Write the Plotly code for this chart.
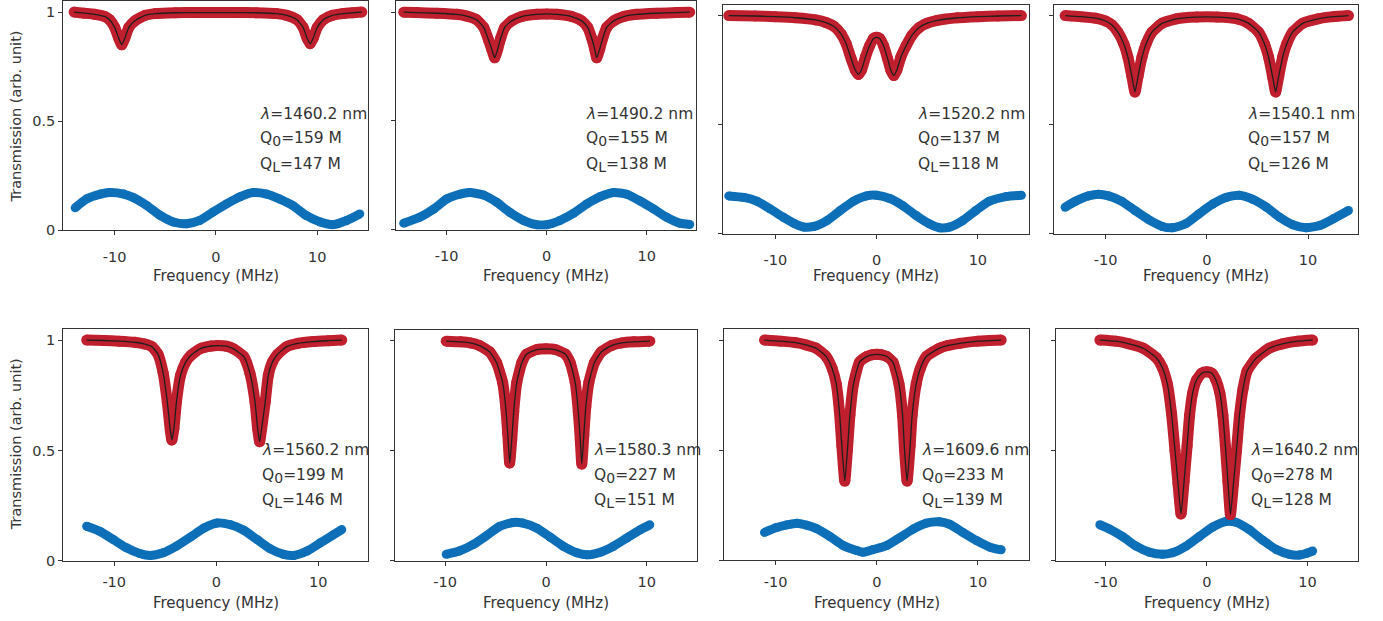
import plotly.graph_objects as go

W, H = 1383, 621

# ---------------- data ----------------
wavelengths = ["1460.2", "1490.2", "1520.2", "1540.1", "1560.2", "1580.3", "1609.6", "1640.2"]
q_intrinsic = ["159", "155", "137", "157", "199", "227", "233", "278"]
q_loaded = ["147", "138", "118", "126", "146", "151", "139", "128"]

x_tick_vals = [-10, 0, 10]
x_tick_text = ["-10", "0", "10"]
y_tick_vals = [0, 0.5, 1]
y_tick_text = ["0", "0.5", "1"]

# panel 1  (1460.2 nm)
freq_red_1 = [-14, -13, -12, -11, -10.5, -10, -9.6, -9.3, -9.0, -8.6, -8, -7, -6, -4, -2, 0, 2, 4, 6, 7, 8,
              8.6, 9.0, 9.3, 9.6, 10, 10.6, 11.5, 12.5, 13.5, 14.4]
trans_red_1 = [1.0, 0.995, 0.99, 0.98, 0.965, 0.93, 0.88, 0.85, 0.88, 0.93, 0.96, 0.985, 0.993, 0.997, 0.998,
               0.998, 0.998, 0.997, 0.993, 0.985, 0.965, 0.93, 0.88, 0.855, 0.88, 0.93, 0.965, 0.985, 0.993,
               0.997, 1.0]
freq_blue_1 = [-13.9, -12.8, -11.4, -10.5, -9.1, -8.2, -6.8, -5.5, -4.2, -2.9, -1.6, -0.3, 1.05, 2.4, 3.7, 5.0,
               6.3, 7.6, 8.9, 10.3, 11.6, 12.9, 14.2]
trans_blue_1 = [0.103, 0.143, 0.166, 0.173, 0.166, 0.151, 0.113, 0.068, 0.038, 0.030, 0.045, 0.083, 0.121,
                0.154, 0.173, 0.166, 0.143, 0.113, 0.068, 0.038, 0.026, 0.045, 0.075]

# panel 2  (1490.2 nm)
freq_red_2 = [-14.3, -13, -11, -9, -8, -7, -6.3, -5.8, -5.5, -5.2, -4.9, -4.6, -4.2, -3.5, -2.5, -1, 0, 1, 2.5,
              3.5, 4.1, 4.5, 4.8, 5.0, 5.3, 5.6, 6.0, 6.7, 7.7, 9, 11, 13, 14.3]
trans_red_2 = [1.0, 0.998, 0.995, 0.99, 0.982, 0.965, 0.93, 0.87, 0.83, 0.79, 0.83, 0.88, 0.93, 0.96, 0.98,
               0.99, 0.992, 0.99, 0.98, 0.96, 0.93, 0.88, 0.83, 0.79, 0.83, 0.88, 0.93, 0.96, 0.98, 0.99,
               0.995, 0.998, 1.0]
freq_blue_2 = [-14.3, -12.7, -11.3, -10, -8.7, -7.7, -6.3, -5, -3.7, -2.3, -1, 0, 1.3, 2.7, 4, 5.3, 6.7, 8,
               9.3, 10.7, 12, 13.3, 14.3]
trans_blue_2 = [0.030, 0.057, 0.095, 0.141, 0.163, 0.171, 0.159, 0.126, 0.080, 0.042, 0.023, 0.023, 0.042,
                0.076, 0.118, 0.151, 0.171, 0.163, 0.133, 0.095, 0.057, 0.030, 0.024]

# panel 3  (1520.2 nm)
freq_red_3 = [-14.6, -12, -10, -8, -6, -5, -4.2, -3.5, -3, -2.5, -2.1, -1.8, -1.5, -1.1, -0.7, -0.3, 0, 0.3,
              0.7, 1.1, 1.4, 1.7, 2.0, 2.4, 2.9, 3.5, 4.2, 5, 6, 8, 10, 12, 14.3]
trans_red_3 = [1.0, 0.998, 0.995, 0.99, 0.98, 0.968, 0.95, 0.915, 0.87, 0.8, 0.75, 0.73, 0.75, 0.81, 0.86,
               0.895, 0.9, 0.895, 0.86, 0.80, 0.75, 0.725, 0.75, 0.81, 0.86, 0.91, 0.945, 0.965, 0.978,
               0.99, 0.995, 0.998, 1.0]
freq_blue_3 = [-14.6, -13.1, -11.8, -10.5, -9.2, -8.2, -7.2, -6.2, -4.9, -3.6, -2.3, -1.0, 0, 1.3, 2.6, 3.9,
               5.2, 6.2, 7.2, 8.5, 9.8, 11.1, 12.8, 14.3]
trans_blue_3 = [0.173, 0.166, 0.148, 0.113, 0.075, 0.048, 0.030, 0.033, 0.060, 0.106, 0.148, 0.173, 0.176,
                0.161, 0.128, 0.083, 0.045, 0.027, 0.030, 0.060, 0.106, 0.148, 0.170, 0.176]

# panel 4  (1540.1 nm)
freq_red_4 = [-14, -12.5, -11, -10, -9.4, -8.8, -8.2, -7.8, -7.4, -7.1, -6.8, -6.4, -6.0, -5.4, -4.4, -3, -1,
              1, 3, 4.1, 5.1, 5.7, 6.1, 6.5, 6.8, 7.1, 7.5, 7.9, 8.5, 9.5, 11, 12.5, 14]
trans_red_4 = [1.0, 0.995, 0.988, 0.975, 0.958, 0.925, 0.87, 0.81, 0.72, 0.65, 0.72, 0.81, 0.87, 0.925,
               0.965, 0.985, 0.993, 0.993, 0.985, 0.965, 0.925, 0.87, 0.81, 0.72, 0.65, 0.72, 0.81, 0.87,
               0.925, 0.965, 0.985, 0.995, 1.0]
freq_blue_4 = [-14.0, -13.0, -11.7, -10.7, -9.7, -8.4, -7.1, -5.7, -4.4, -3.4, -2.1, -0.8, 0.6, 1.9, 3.2,
               4.5, 5.9, 7.2, 8.5, 9.8, 11.2, 12.5, 14.0]
trans_blue_4 = [0.121, 0.148, 0.173, 0.181, 0.173, 0.148, 0.106, 0.063, 0.033, 0.027, 0.045, 0.090, 0.136,
                0.166, 0.176, 0.158, 0.121, 0.075, 0.041, 0.027, 0.038, 0.068, 0.106]

# panel 5  (1560.2 nm)
freq_red_5 = [-12.7, -11, -9.5, -8, -7, -6.3, -5.7, -5.2, -4.8, -4.5, -4.35, -4.15, -3.9, -3.5, -3.0, -2.5,
              -1.6, -0.5, 0.2, 1, 1.7, 2.7, 3.3, 3.8, 4.05, 4.25, 4.45, 4.8, 5.1, 5.5, 6.0, 6.9, 8.0, 9.5,
              11, 12.3]
trans_red_5 = [1.0, 0.998, 0.995, 0.99, 0.982, 0.97, 0.935, 0.85, 0.72, 0.59, 0.548, 0.6, 0.72, 0.84, 0.9,
               0.93, 0.96, 0.973, 0.975, 0.972, 0.96, 0.925, 0.85, 0.72, 0.6, 0.54, 0.6, 0.72, 0.84, 0.9,
               0.935, 0.97, 0.985, 0.993, 0.997, 1.0]
freq_blue_5 = [-12.7, -11.4, -10.1, -8.8, -7.5, -6.5, -5.2, -3.9, -2.5, -1.2, 0.1, 1.4, 2.7, 4.0, 5.3, 6.6,
               7.6, 8.9, 10.2, 11.5, 12.3]
trans_blue_5 = [0.157, 0.134, 0.097, 0.060, 0.034, 0.025, 0.037, 0.067, 0.109, 0.149, 0.172, 0.164, 0.139,
                0.097, 0.055, 0.030, 0.025, 0.045, 0.082, 0.119, 0.142]

# panel 6  (1580.3 nm)
freq_red_6 = [-9.9, -8.5, -7.5, -6.6, -5.6, -4.9, -4.3, -4.0, -3.8, -3.6, -3.4, -3.2, -2.9, -2.4, -1.9, -0.9,
              0, 0.9, 1.9, 2.4, 2.9, 3.2, 3.4, 3.55, 3.75, 3.95, 4.25, 4.8, 5.5, 6.5, 7.5, 8.7, 10.3]
trans_red_6 = [0.998, 0.995, 0.99, 0.978, 0.95, 0.9, 0.81, 0.7, 0.58, 0.445, 0.55, 0.68, 0.81, 0.9, 0.94,
               0.96, 0.963, 0.96, 0.94, 0.9, 0.81, 0.68, 0.55, 0.44, 0.57, 0.7, 0.81, 0.9, 0.95, 0.978, 0.99,
               0.995, 0.998]
freq_blue_6 = [-9.9, -8.6, -7.2, -5.9, -4.6, -3.25, -2.3, -0.9, 0.4, 1.7, 3.05, 4.05, 5.4, 6.7, 8.0, 9.35,
               10.3]
trans_blue_6 = [0.030, 0.045, 0.075, 0.115, 0.157, 0.175, 0.172, 0.149, 0.109, 0.067, 0.037, 0.028, 0.040,
                0.067, 0.104, 0.142, 0.164]

# panel 7  (1609.6 nm)
freq_red_7 = [-11.1, -9.5, -8, -7, -6, -5, -4.4, -4.0, -3.7, -3.45, -3.16, -2.9, -2.65, -2.3, -1.7, -1.0,
              -0.5, 0, 0.5, 1.0, 1.6, 2.2, 2.55, 2.75, 3.0, 3.3, 3.5, 3.9, 4.3, 4.9, 6.2, 7, 8.2, 10, 12.3]
trans_red_7 = [1.0, 0.995, 0.988, 0.978, 0.963, 0.925, 0.87, 0.8, 0.68, 0.52, 0.36, 0.5, 0.66, 0.8, 0.9,
               0.925, 0.933, 0.935, 0.933, 0.925, 0.9, 0.8, 0.66, 0.5, 0.36, 0.52, 0.66, 0.8, 0.87, 0.925,
               0.963, 0.975, 0.985, 0.995, 1.0]
freq_blue_7 = [-11.1, -9.9, -8.9, -7.9, -6.95, -6.0, -4.65, -3.3, -2.0, -1.35, -0.36, 0.96, 2.3, 3.6, 4.9,
               6.2, 7.2, 8.5, 9.85, 11.2, 12.3]
trans_blue_7 = [0.127, 0.149, 0.161, 0.169, 0.160, 0.145, 0.109, 0.067, 0.045, 0.037, 0.049, 0.067, 0.104,
                0.142, 0.169, 0.175, 0.164, 0.127, 0.090, 0.060, 0.048]

# panel 8  (1640.2 nm)
freq_red_8 = [-10.6, -9, -7.7, -6.3, -5.0, -4.4, -3.9, -3.5, -3.15, -2.85, -2.55, -2.25, -1.95, -1.7, -1.4,
              -1.0, -0.5, 0, 0.5, 0.9, 1.3, 1.6, 1.85, 2.1, 2.35, 2.65, 2.95, 3.25, 3.6, 4.0, 4.9, 6.2, 7.5, 9,
              10.5]
trans_red_8 = [1.0, 0.995, 0.983, 0.963, 0.92, 0.875, 0.8, 0.67, 0.5, 0.35, 0.213, 0.36, 0.52, 0.66, 0.76,
               0.82, 0.85, 0.856, 0.85, 0.82, 0.76, 0.66, 0.52, 0.36, 0.21, 0.35, 0.5, 0.66, 0.78, 0.86,
               0.918, 0.963, 0.983, 0.995, 1.0]
freq_blue_8 = [-10.6, -9.65, -8.3, -7.0, -5.7, -4.4, -3.4, -2.05, -0.7, 0.6, 1.9, 2.9, 4.2, 5.55, 6.9, 8.2,
               9.2, 9.85, 10.5]
trans_blue_8 = [0.164, 0.145, 0.109, 0.067, 0.040, 0.030, 0.037, 0.067, 0.112, 0.154, 0.179, 0.175, 0.142,
                0.094, 0.052, 0.030, 0.027, 0.034, 0.045]

red_freqs = [freq_red_1, freq_red_2, freq_red_3, freq_red_4, freq_red_5, freq_red_6, freq_red_7, freq_red_8]
red_trans = [trans_red_1, trans_red_2, trans_red_3, trans_red_4, trans_red_5, trans_red_6, trans_red_7, trans_red_8]
blue_freqs = [freq_blue_1, freq_blue_2, freq_blue_3, freq_blue_4, freq_blue_5, freq_blue_6, freq_blue_7, freq_blue_8]
blue_trans = [trans_blue_1, trans_blue_2, trans_blue_3, trans_blue_4, trans_blue_5, trans_blue_6, trans_blue_7, trans_blue_8]

# ---------------- layout / style ----------------
RED = "#C01F2D"
BLUE = "#0D6FB8"
FIT = "#1E1E1E"
TXT = "#333333"
AXC = "#333333"
FONT = "DejaVu Sans"

# pixel boxes (left, right, top, bottom)
boxes = [(63.3, 368.3, 1.2, 233.3), (396, 696, 1.3, 232.7), (722.7, 1029.3, 4.7, 236.7), (1054, 1358.3, 4.7, 236.7),
         (63.3, 368.3, 333.3, 568.3), (395, 696.7, 334, 568.3), (724, 1029.3, 333.3, 567.7), (1056, 1358.3, 333.3, 568.3)]
xranges = [(-15.07, 15.04), (-15.07, 14.93), (-15.2, 15.08), (-15.1, 14.97),
           (-14.99, 14.9), (-14.98, 14.95), (-15.1, 15.08), (-14.95, 15.03)]
ann_left = [258, 584, 916, 1246, 260, 592, 920, 1249]


def px(x):
    return x / W


def py(y):
    return 1 - y / H


def sub(s):
    return f"<sub><span style='font-size:14px'>{s}</span></sub>"


fig = go.Figure()
layout = dict(
    width=W, height=H, margin=dict(l=0, r=0, t=0, b=0),
    paper_bgcolor="white", plot_bgcolor="white", showlegend=False,
    font=dict(family=FONT, color=TXT, size=14),
)
annotations = []

for i in range(8):
    k = i + 1
    xa = "x" if k == 1 else f"x{k}"
    ya = "y" if k == 1 else f"y{k}"
    l, r, t, b = boxes[i]
    row2 = i >= 4
    fig.add_trace(go.Scatter(x=blue_freqs[i], y=blue_trans[i], mode="lines+markers",
                             line=dict(color=BLUE, width=9, shape="spline", smoothing=0.6),
                             marker=dict(color=BLUE, size=9), xaxis=xa, yaxis=ya, hoverinfo="skip"))
    fig.add_trace(go.Scatter(x=red_freqs[i], y=red_trans[i], mode="lines+markers",
                             line=dict(color=RED, width=11, shape="spline", smoothing=0.5),
                             marker=dict(color=RED, size=11), xaxis=xa, yaxis=ya, hoverinfo="skip"))
    fig.add_trace(go.Scatter(x=red_freqs[i], y=red_trans[i], mode="lines",
                             line=dict(color=FIT, width=1.3, shape="spline", smoothing=0.5),
                             xaxis=xa, yaxis=ya, hoverinfo="skip"))
    layout["xaxis" if k == 1 else f"xaxis{k}"] = dict(
        domain=[px(l), px(r)], anchor=ya, range=list(xranges[i]),
        tickmode="array", tickvals=x_tick_vals, ticktext=x_tick_text,
        ticks="outside", ticklen=4, tickwidth=1, tickcolor=AXC,
        showline=True, linecolor=AXC, linewidth=1.2, mirror=True,
        showgrid=False, zeroline=False,
        tickfont=dict(family=FONT, size=14.5, color=TXT),
        ticklabelstandoff=(4 if row2 else 9),
    )
    layout["yaxis" if k == 1 else f"yaxis{k}"] = dict(
        domain=[py(b), py(t)], anchor=xa, range=[0, 1.05],
        tickmode="array", tickvals=y_tick_vals, ticktext=y_tick_text,
        ticks="outside", ticklen=4, tickwidth=1, tickcolor=AXC,
        showline=True, linecolor=AXC, linewidth=1.2, mirror=True,
        showgrid=False, zeroline=False, showticklabels=(i in (0, 4)),
        tickfont=dict(family=FONT, size=14.5, color=TXT),
    )
    # x-axis title
    annotations.append(dict(xref="paper", yref="paper", x=px((l + r) / 2), y=py(611 if row2 else 280),
                            text="Frequency (MHz)", showarrow=False, xanchor="center", yanchor="middle",
                            font=dict(family=FONT, size=15, color=TXT)))
    # labels
    base = 341 if row2 else 0
    ax = px(ann_left[i])
    annotations.append(dict(xref="paper", yref="paper", x=ax, y=py(115 + base), xanchor="left", yanchor="middle",
                            text=f"<i>λ</i>={wavelengths[i]} nm", showarrow=False,
                            font=dict(family=FONT, size=15.5, color=TXT)))
    annotations.append(dict(xref="paper", yref="paper", x=ax, y=py(141 + base), xanchor="left", yanchor="middle",
                            text=f"Q{sub('0')}={q_intrinsic[i]} M", showarrow=False,
                            font=dict(family=FONT, size=15.5, color=TXT)))
    annotations.append(dict(xref="paper", yref="paper", x=ax, y=py(167 + base), xanchor="left", yanchor="middle",
                            text=f"Q{sub('L')}={q_loaded[i]} M", showarrow=False,
                            font=dict(family=FONT, size=15.5, color=TXT)))

for yc in (118, 450):
    annotations.append(dict(xref="paper", yref="paper", x=px(16), y=py(yc), text="Transmission (arb. unit)",
                            textangle=-90, showarrow=False, xanchor="center", yanchor="middle",
                            font=dict(family=FONT, size=14.5, color=TXT)))

layout["annotations"] = annotations
fig.update_layout(**layout)
fig.write_html("out.html")
